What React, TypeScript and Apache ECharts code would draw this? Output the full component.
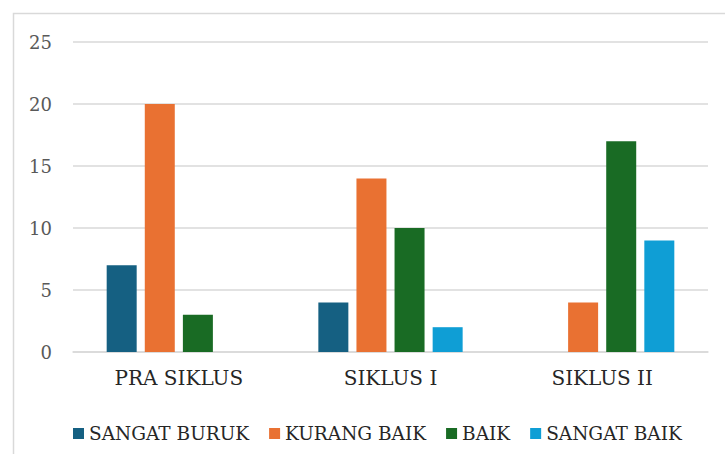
import React, { useEffect, useRef } from "react";
import * as echarts from "echarts";

const categories = ["PRA SIKLUS", "SIKLUS I", "SIKLUS II"];
const seriesNames = ["SANGAT BURUK", "KURANG BAIK", "BAIK", "SANGAT BAIK"];
const sangatBuruk = [7, 4, 0];
const kurangBaik = [20, 14, 4];
const baik = [3, 10, 17];
const sangatBaik = [0, 2, 9];
const colors = ["#156082", "#E97132", "#196B24", "#0F9ED5"];

const FONT = "DejaVu Serif";

export default function App() {
  const ref = useRef<HTMLDivElement>(null);
  useEffect(() => {
    document.body.style.margin = "0";
    const chart = echarts.init(ref.current!, undefined, { renderer: "svg" });
    const values = [sangatBuruk, kurangBaik, baik, sangatBaik];
    chart.setOption({
      animation: false,
      backgroundColor: "#ffffff",
      textStyle: { fontFamily: FONT },
      graphic: [
        {
          type: "rect",
          shape: { x: 13.5, y: 13.5, width: 800, height: 600 },
          style: { fill: "none", stroke: "#d9d9d9", lineWidth: 1.5 },
          silent: true,
        },
      ],
      grid: { left: 73, right: 17, top: 42, bottom: 102, containLabel: false },
      legend: {
        data: seriesNames,
        left: 68,
        top: 419,
        itemWidth: 11,
        itemHeight: 11,
        itemGap: 20,
        icon: "rect",
        textStyle: { fontFamily: FONT, fontSize: 18.5, color: "#262626" },
      },
      xAxis: {
        type: "category",
        data: categories,
        axisLine: { show: true, lineStyle: { color: "#d9d9d9", width: 1.5 } },
        axisTick: { show: false },
        axisLabel: { fontFamily: FONT, fontSize: 20, color: "#262626", margin: 16 },
      },
      yAxis: {
        type: "value",
        min: 0,
        max: 25,
        interval: 5,
        axisLine: { show: false },
        axisTick: { show: false },
        splitLine: { lineStyle: { color: "#d9d9d9", width: 1.5 } },
        axisLabel: { fontFamily: FONT, fontSize: 18, color: "#595959", margin: 21 },
      },
      series: seriesNames.map((name, i) => ({
        name,
        type: "bar",
        data: values[i],
        barWidth: 30,
        barGap: "27%",
        barCategoryGap: "32%",
        itemStyle: { color: colors[i] },
      })),
    });
    return () => chart.dispose();
  }, []);
  return <div ref={ref} style={{ width: 725, height: 454 }} />;
}
